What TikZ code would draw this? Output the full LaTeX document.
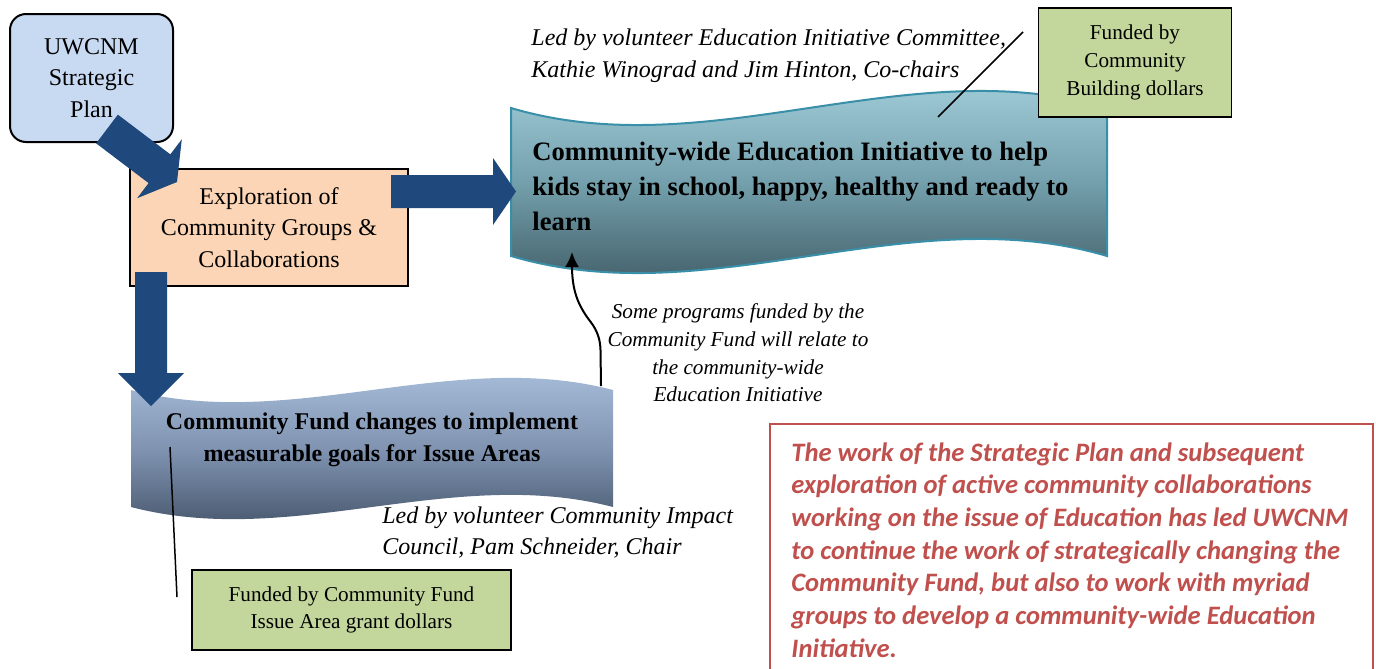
\documentclass[tikz,border=0pt]{standalone}
\usepackage{fontspec}
\setmainfont{Liberation Serif}
\newfontfamily\calib{Carlito}
\usetikzlibrary{calc,arrows.meta}
\definecolor{arrowblue}{RGB}{31,73,125}
\definecolor{uwblue}{RGB}{200,218,241}
\definecolor{peach}{RGB}{251,213,181}
\definecolor{greenbox}{RGB}{195,214,155}
\definecolor{eduTop}{RGB}{174,218,230}
\definecolor{eduMid}{RGB}{115,160,172}
\definecolor{eduBot}{RGB}{52,76,86}
\definecolor{eduLine}{RGB}{58,143,168}
\definecolor{cfTop}{RGB}{178,200,228}
\definecolor{cfMid}{RGB}{128,148,178}
\definecolor{cfBot}{RGB}{56,70,90}
\definecolor{redtxt}{RGB}{192,80,77}
\newcommand\blockarr[5]{%
  \coordinate (ba-c) at ($(#2)!#5!(#1)$);
  \fill[arrowblue] ($(#1)!#3!90:(#2)$) -- ($(ba-c)!#3!-90:(#1)$) -- ($(ba-c)!#4!-90:(#1)$) -- (#2) -- ($(ba-c)!#4!90:(#1)$) -- ($(ba-c)!#3!90:(#1)$) -- ($(#1)!#3!-90:(#2)$) -- cycle;}
\tikzset{
  plainbox/.style={draw=black, line width=0.8pt, inner sep=0pt, align=center, font=\fontsize{12}{15.8}\selectfont},
  greenfund/.style={draw=black, line width=0.8pt, fill=greenbox, inner sep=0pt, align=center, font=\fontsize{10.6}{13.8}\selectfont},
  note/.style={inner sep=0pt, font=\fontsize{12}{16}\selectfont\itshape},
  leader/.style={draw=black, line width=0.75pt},
}
\begin{document}
\begin{tikzpicture}[x=0.5pt, y=-0.5pt]
\useasboundingbox (0,0) rectangle (1376,669);
% waves
\shade[top color=eduTop, bottom color=eduBot, middle color=eduMid]
  (511,108) .. controls (710,167) and (908,49) .. (1107,108)
  -- (1107,256) .. controls (908,197) and (710,315) .. (511,256) -- cycle;
\draw[eduLine, line width=1pt]
  (511,108) .. controls (710,167) and (908,49) .. (1107,108)
  -- (1107,256) .. controls (908,197) and (710,315) .. (511,256) -- cycle;
\shade[top color=cfTop, bottom color=cfBot, middle color=cfMid]
  (131,390) .. controls (292,432) and (452,348) .. (613,390)
  -- (613,507) .. controls (452,465) and (292,549) .. (131,507) -- cycle;
% wave texts
\node (edu) [anchor=west, inner sep=0pt, align=left, font=\fontsize{13.3}{17.5}\selectfont\bfseries] at (532,186)
  {Community-wide Education Initiative to help\\kids stay in school, happy, healthy and ready to\\learn};
\node (cf) [inner sep=0pt, align=center, font=\fontsize{12}{16}\selectfont\bfseries] at (372,440)
  {Community Fund changes to implement\\measurable goals for Issue Areas};
% boxes
\node (uw) [plainbox, fill=uwblue, rounded corners=8pt, line width=1pt, minimum width=163*0.5pt, minimum height=128*0.5pt] at (91.5,78)
  {UWCNM\\Strategic\\Plan};
\node (ex) [plainbox, fill=peach, minimum width=278*0.5pt, minimum height=117*0.5pt] at (269,227.5)
  {Exploration of\\Community Groups \&\\Collaborations};
% block arrows
\coordinate (d1s) at (107,129);
\coordinate (d1e) at (177,182);
\blockarr{d1s}{d1e}{9pt}{18.5pt}{11pt}
\coordinate (d2s) at (391,191.5);
\coordinate (d2e) at (516,191.5);
\blockarr{d2s}{d2e}{8.25pt}{16.75pt}{11.5pt}
\coordinate (d3s) at (151,272);
\coordinate (d3e) at (151,406);
\blockarr{d3s}{d3e}{8pt}{16.5pt}{16.5pt}
% notes
\node (ledEdu) [note, anchor=west, align=left] at (531,56)
  {Led by volunteer Education Initiative Committee,\\Kathie Winograd and Jim Hinton, Co-chairs};
\node (ledCf) [note, anchor=west, align=left, font=\fontsize{12}{15.5}\selectfont\itshape] at (382,533)
  {Led by volunteer Community Impact\\Council, Pam Schneider, Chair};
\node (some) [note, align=center, font=\fontsize{10.6}{13.85}\selectfont\itshape] at (738,353)
  {Some programs funded by the\\Community Fund will relate to\\the community-wide\\Education Initiative};
% green boxes
\node (fund1) [greenfund, minimum width=193*0.5pt, minimum height=109*0.5pt] at (1135,62.5)
  {Funded by\\Community\\Building dollars};
\node (fund2) [greenfund, minimum width=319*0.5pt, minimum height=80*0.5pt] at (351.5,610)
  {Funded by Community Fund\\Issue Area grant dollars};
% leader lines
\coordinate (l1a) at (1023,32);
\coordinate (l1b) at (938,117);
\draw[leader] (l1a) -- (l1b);
\coordinate (l2a) at (170,447);
\coordinate (l2b) at (177,597);
\draw[leader] (l2a) -- (l2b);
% curved arrow
\coordinate (cfTopPt) at (601,386);
\coordinate (eduBotPt) at (572,252);
\draw[line width=1pt, -{Latex[length=7.5pt,width=7pt]}] (cfTopPt) -- (600.5,350)
  .. controls (600,332) and (592,324) .. (587,317)
  .. controls (578,304) and (572,290) .. (eduBotPt);
% red box
\draw[redtxt, line width=1pt] (1373,700) -- (1373,424) -- (770,424) -- (770,700);
\node (red) [anchor=west, inner sep=0pt, align=left, text=redtxt, font=\calib\fontsize{13.3}{16.35}\selectfont\bfseries\itshape] at (791,550)
  {The work of the Strategic Plan and subsequent\\exploration of active community collaborations\\working on the issue of Education has led UWCNM\\to continue the work of strategically changing the\\Community Fund, but also to work with myriad\\groups to develop a community-wide Education\\Initiative.};
\end{tikzpicture}
\end{document}
